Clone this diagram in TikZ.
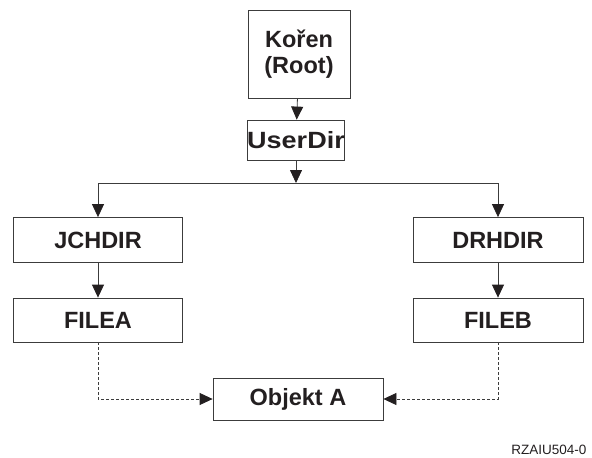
\documentclass[tikz,border=0pt]{standalone}
\usepackage{tikz}
\usepackage{xcolor}
\usepackage{fontspec}
\setmainfont{Liberation Sans}
\usetikzlibrary{arrows,arrows.meta,positioning}
\definecolor{ink}{RGB}{35, 31, 32}
\definecolor{edge}{RGB}{60, 60, 60}
\tikzstyle{dirbox} = [
    rectangle,
    minimum width=169pt,
    minimum height=45pt,
    inner sep=0pt,
    text centered,
    draw=edge,
    line width=0.8pt,
    text=ink,
    font=\fontsize{23.5}{26}\selectfont\bfseries
]
\tikzstyle{arrow} = [
    line width=0.8pt,
    draw=edge,
    -{Triangle[length=13pt,width=12pt,color=ink]}
]
\tikzstyle{link} = [
    arrow,
    dash pattern=on 3pt off 2pt
]

\begin{document}
\begin{tikzpicture}[x=1pt,y=-1pt]
    \useasboundingbox (0,0) rectangle (592,458);
    % tree of directories
    \node[dirbox, minimum width=102pt, minimum height=88pt, align=center]
        (root) at (299,54) {Kořen\\(Root)};
    \node[dirbox, minimum width=97pt, minimum height=40pt]
        (userdir) at (296,140) {\scalebox{1.15}[1]{UserDir}};
    \coordinate (branch) at (296,183);
    \node[dirbox] (jchdir) at (98,240) {JCHDIR};
    \node[dirbox, minimum width=170pt] (drhdir) at (498,240) {DRHDIR};
    \node[dirbox, minimum height=44pt] (filea) at (98,320) {FILEA};
    \node[dirbox, minimum width=170pt, minimum height=44pt] (fileb) at (498,320) {FILEB};
    \node[dirbox, minimum width=170pt, minimum height=42pt]
        (objekt) at (298,399) {Objekt A};
    \node[text=ink, font=\fontsize{13.5}{16}\selectfont, anchor=east]
        (figid) at (590,450) {RZAIU504-0};

    \draw[arrow] (root) -- (userdir);
    \draw[arrow] (userdir) -- (branch);
    \draw[arrow] (branch) -| (jchdir.north);
    \draw[arrow] (branch) -| (drhdir.north);
    \draw[arrow] (jchdir) -- (filea);
    \draw[arrow] (drhdir) -- (fileb);
    % links to the same object
    \draw[link] (filea.south) |- (objekt.west);
    \draw[link] (fileb.south) |- (objekt.east);
\end{tikzpicture}
\end{document}
